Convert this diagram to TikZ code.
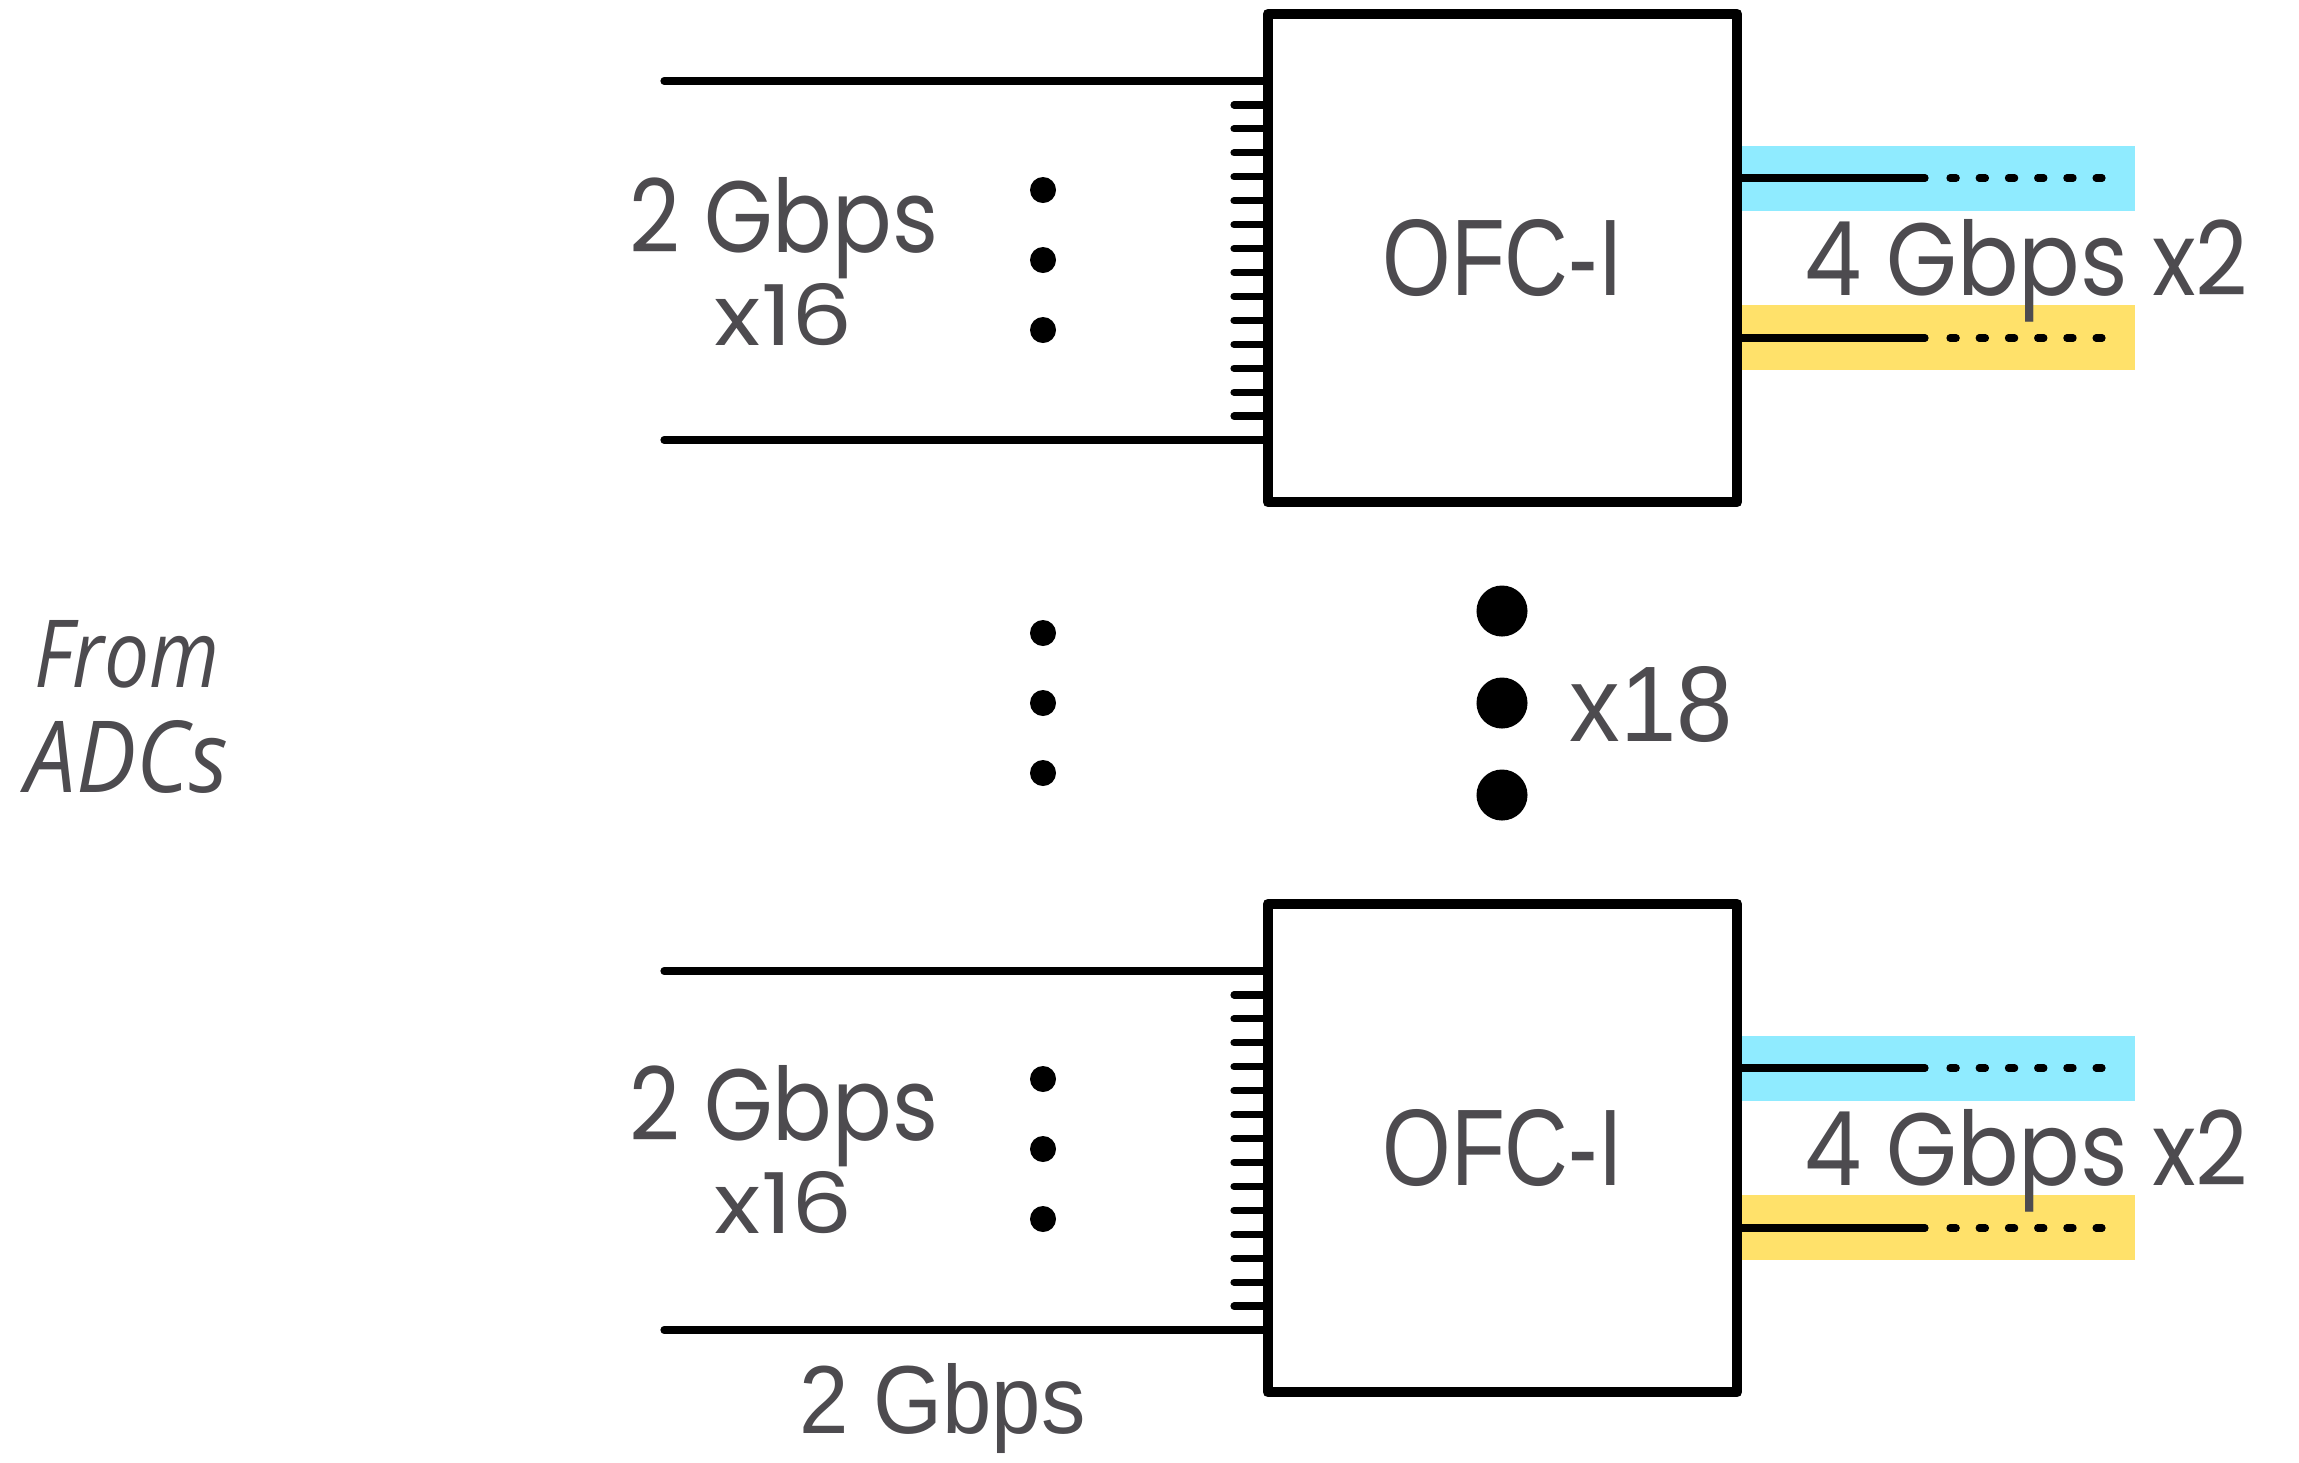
\documentclass[tikz,border=0pt]{standalone}
\usepackage{graphicx}
\usepackage{fontspec}
\setmainfont{Liberation Sans}
\newfontfamily\roundf{Poppins}
\newfontfamily\handf{Open Sans}
\definecolor{txtgray}{RGB}{77,75,79}
\definecolor{cyanband}{RGB}{143,235,255}
\definecolor{yelband}{RGB}{255,225,106}
\newcommand{\fitbox}[3]{\resizebox{#1}{#2}{#3}}
\begin{document}
\begin{tikzpicture}[x=0.01cm,y=-0.01cm,
  thinline/.style={line width=0.072cm, line cap=round},
  dotline/.style={line width=0.072cm, line cap=round, dash pattern=on 0.062cm off 0.23cm},
  ofcbox/.style={draw, line width=0.105cm, line join=round, inner sep=0, outer sep=0,
     minimum width=4.69cm, minimum height=4.88cm, text=txtgray},
  sdot/.style={circle, fill=black, inner sep=0, minimum size=0.26cm},
  bdot/.style={circle, fill=black, inner sep=0, minimum size=0.51cm},
  txtnode/.style={anchor=base, inner sep=0, outer sep=0, text=txtgray}]
\fill[white] (0,0) rectangle (2299,1462);
\useasboundingbox (0,0) rectangle (2299,1462);

% colour bands
\fill[cyanband] (1737,146) rectangle (2135,211);
\fill[yelband]  (1737,305) rectangle (2135,370);
\fill[cyanband] (1737,1036) rectangle (2135,1101);
\fill[yelband]  (1737,1195) rectangle (2135,1260);

% boxes
\node[ofcbox] (box1) at (1502.5,258) {\fitbox{2.40cm}{0.76cm}{OFC-I}};
\node[ofcbox] (box2) at (1502.5,1148) {\fitbox{2.40cm}{0.76cm}{OFC-I}};

% inputs, top box
\coordinate (in1a) at (664,81);
\coordinate (in1b) at (664,440);
\draw[thinline] (in1a) -- (in1a -| box1.west);
\draw[thinline] (in1b) -- (in1b -| box1.west);
\foreach \k in {1,...,14}{
  \coordinate (t1\k) at (1234,{81+\k*23.933});
  \draw[thinline] (t1\k) -- (t1\k -| box1.west);
}
% inputs, bottom box
\coordinate (in2a) at (664,971);
\coordinate (in2b) at (664,1330);
\draw[thinline] (in2a) -- (in2a -| box2.west);
\draw[thinline] (in2b) -- (in2b -| box2.west);
\foreach \k in {1,...,14}{
  \coordinate (t2\k) at (1234,{971+\k*23.933});
  \draw[thinline] (t2\k) -- (t2\k -| box2.west);
}

% outputs
\foreach \b/\y in {1/178,1/338,2/1068,2/1228}{
  \coordinate (os\y) at (1925,\y);
  \coordinate (od\y) at (1950,\y);
  \coordinate (oe\y) at (2102,\y);
  \draw[thinline] (os\y -| box\b.east) -- (os\y);
  \draw[dotline] (od\y) -- (oe\y);
}

% small dots
\node[sdot] (sd1) at (1043,190) {};
\node[sdot] (sd2) at (1043,260) {};
\node[sdot] (sd3) at (1043,330) {};
\node[sdot] (sd4) at (1043,633) {};
\node[sdot] (sd5) at (1043,703) {};
\node[sdot] (sd6) at (1043,773) {};
\node[sdot] (sd7) at (1043,1079) {};
\node[sdot] (sd8) at (1043,1149) {};
\node[sdot] (sd9) at (1043,1219) {};
% big dots
\node[bdot] (bd1) at (1502,611) {};
\node[bdot] (bd2) at (1502,703) {};
\node[bdot] (bd3) at (1502,795) {};

% labels
\node[txtnode] (x18) at (1651.5,741) {\fitbox{1.63cm}{0.75cm}{x18}};
\node[txtnode] (rate) at (942.5,1433) {\fitbox{2.86cm}{0.70cm}{2 Gbps}};

\node[txtnode] (in1l1) at (784,252) {\fitbox{3.08cm}{0.75cm}{\roundf 2 Gbps}};
\node[txtnode] (in1l2) at (784,345) {\fitbox{1.38cm}{0.62cm}{\roundf x16}};
\node[txtnode] (in2l1) at (784,1140) {\fitbox{3.08cm}{0.75cm}{\roundf 2 Gbps}};
\node[txtnode] (in2l2) at (784,1233) {\fitbox{1.38cm}{0.62cm}{\roundf x16}};

\node[txtnode] (out1l) at (2026.5,295) {\fitbox{4.43cm}{0.76cm}{\roundf 4 Gbps x2}};
\node[txtnode] (out2l) at (2026.5,1185) {\fitbox{4.43cm}{0.76cm}{\roundf 4 Gbps x2}};

\node[txtnode] (from) at (127,687) {\fitbox{1.85cm}{0.67cm}{\handf\itshape From}};
\node[txtnode] (adcs) at (127,792) {\fitbox{2.02cm}{0.72cm}{\handf\itshape ADCs}};
\end{tikzpicture}
\end{document}
